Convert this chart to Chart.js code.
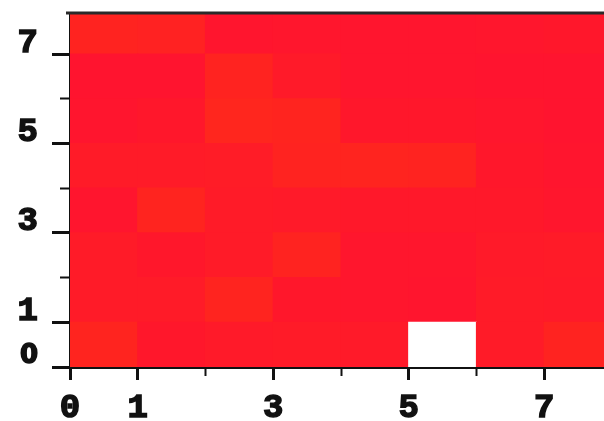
<!DOCTYPE html>
<html><head><meta charset="utf-8">
<script src="https://cdn.jsdelivr.net/npm/chart.js@4/dist/chart.umd.min.js"></script>
<style>
html,body{margin:0;padding:0;background:#fff;overflow:hidden;width:604px;height:421px}
#wrap{position:absolute;left:0;top:0;width:612px;height:421px}
</style>
</head><body><div id="wrap"><canvas id="c" width="612" height="421"></canvas></div>
<script>
// grid cells (lower edges) and tick labels
const xCells = [0, 1, 2, 3, 4, 5, 6, 7];
const yCells = [0, 1, 2, 3, 4, 5, 6, 7];
const xTickLabels = ['0', '1', '', '3', '', '5', '', '7'];
const yTickLabels = ['0', '1', '', '3', '', '5', '', '7'];
// cell values (0 = crimson red, 1 = orange red), one array per row from y=0 upward; null = empty cell
const row0 = [0.85, 0.30, 0.40, 0.45, 0.40, null, 0.45, 0.80];
const row1 = [0.45, 0.45, 0.85, 0.30, 0.25, 0.20, 0.45, 0.40];
const row2 = [0.45, 0.30, 0.45, 0.80, 0.25, 0.25, 0.40, 0.45];
const row3 = [0.20, 0.85, 0.45, 0.40, 0.35, 0.35, 0.35, 0.25];
const row4 = [0.45, 0.45, 0.50, 0.80, 0.85, 0.80, 0.30, 0.20];
const row5 = [0.20, 0.30, 0.90, 0.85, 0.30, 0.30, 0.25, 0.15];
const row6 = [0.15, 0.15, 0.80, 0.40, 0.20, 0.20, 0.15, 0.15];
const row7 = [0.80, 0.75, 0.20, 0.25, 0.20, 0.20, 0.25, 0.30];
const rows = [row0, row1, row2, row3, row4, row5, row6, row7];

function colorOf(v) {
  if (v === null || v === undefined) return '#ffffff';
  const g = Math.round(16 + 24 * v);
  const b = Math.round(50 - 22 * v);
  return 'rgb(255,' + g + ',' + b + ')';
}

const datasets = rows.map((vals, r) => ({
  data: xCells.map((x) => ({ x: x + 0.5, y: [yCells[r], yCells[r] + 1] })),
  backgroundColor: vals.map(colorOf),
  borderWidth: 0,
  inflateAmount: 0.6,
  grouped: false,
  barPercentage: 1,
  categoryPercentage: 1
}));

const AX = '#111111';
const tickFont = { family: 'Liberation Mono', weight: 'bold', size: 34 };
const zeroFont = { family: 'DejaVu Sans', weight: 'bold', size: 26 };
const yFontFor = (c) => (c && c.tick && c.tick.value === 0 ? zeroFont : tickFont);

function isMajor(labels, c) {
  return !!(c && c.tick && labels[c.tick.value]);
}
function noPad(s) { s.paddingTop = 0; s.paddingBottom = 0; s.paddingLeft = 0; s.paddingRight = 0; }

// frame line along the top edge of the plot, placed with the top axis
const topFrame = {
  id: 'topFrame',
  afterDraw(chart) {
    const s = chart.scales.xTop;
    const ctx = chart.ctx;
    ctx.save();
    ctx.strokeStyle = '#2a2a2a';
    ctx.lineWidth = 3;
    ctx.beginPath();
    ctx.moveTo(s.getPixelForValue(0) - 4, s.bottom);
    ctx.lineTo(s.getPixelForValue(8), s.bottom);
    ctx.stroke();
    ctx.restore();
  }
};

new Chart(document.getElementById('c'), {
  type: 'bar',
  data: { datasets },
  plugins: [topFrame],
  options: {
    responsive: false,
    animation: false,
    events: [],
    layout: { padding: 0 },
    plugins: { legend: { display: false }, tooltip: { enabled: false } },
    scales: {
      x: {
        type: 'linear', position: 'bottom', min: 0, max: 8, offset: false, z: 1,
        afterFit: (s) => { s.height = 54; noPad(s); },
        ticks: {
          stepSize: 1, autoSkip: false, includeBounds: false, maxRotation: 0, padding: 8, color: AX, font: tickFont,
          textStrokeColor: AX, textStrokeWidth: 1.5,
          callback: (v) => (xTickLabels[v] !== undefined ? xTickLabels[v] : '')
        },
        grid: {
          offset: false, drawOnChartArea: false, drawTicks: true, tickLength: 13, tickColor: AX,
          tickWidth: (c) => (isMajor(xTickLabels, c) ? 3 : 2),
          tickBorderDash: (c) => (isMajor(xTickLabels, c) ? [] : [7, 100])
        },
        border: { display: true, color: AX, width: 3 }
      },
      xTop: {
        type: 'linear', position: 'top', min: 0, max: 8, offset: false, z: 1,
        afterFit: (s) => { s.height = 13; noPad(s); },
        ticks: { display: false },
        grid: { display: false, drawTicks: false },
        border: { display: false }
      },
      y: {
        type: 'linear', position: 'left', min: 0, max: 7.92, z: 1,
        afterFit: (s) => { s.width = 70; noPad(s); },
        ticks: {
          stepSize: 1, autoSkip: false, includeBounds: false, padding: 14, labelOffset: -11, color: AX, font: yFontFor,
          textStrokeColor: AX, textStrokeWidth: 1.5,
          callback: (v) => (yTickLabels[v] !== undefined ? yTickLabels[v] : '')
        },
        grid: {
          drawOnChartArea: false, drawTicks: true, tickLength: 18, tickColor: AX,
          tickWidth: (c) => (isMajor(yTickLabels, c) ? 3 : 2),
          tickBorderDash: (c) => (isMajor(yTickLabels, c) ? [] : [0, 8, 10, 100])
        },
        border: { display: true, color: AX, width: 3 }
      }
    }
  }
});
</script>
</body></html>
